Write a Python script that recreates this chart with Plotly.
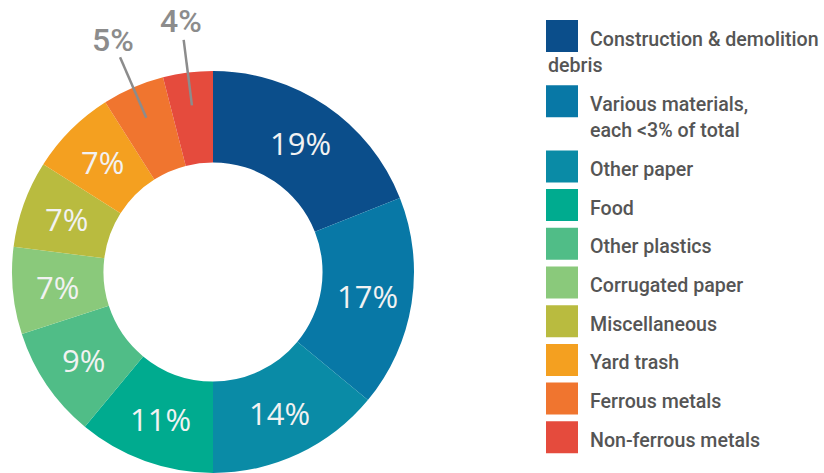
import math
import plotly.graph_objects as go

categories = [
    "Construction & demolition debris",
    "Various materials, each <3% of total",
    "Other paper",
    "Food",
    "Other plastics",
    "Corrugated paper",
    "Miscellaneous",
    "Yard trash",
    "Ferrous metals",
    "Non-ferrous metals",
]
shares = [19, 17, 14, 11, 9, 7, 7, 7, 5, 4]
colors = ["#0b4e8b", "#0878a6", "#0a8ba6", "#00ab8f", "#50bd87",
          "#8ac97b", "#b9bb3f", "#f4a020", "#f0752f", "#e54b3d"]
# legend text as shown (line pieces: (text, indent_flag))
legend_lines = [
    [("Construction & demolition", True), ("debris", False)],
    [("Various materials,", True), ("each <3% of total", True)],
    [("Other paper", True)],
    [("Food", True)],
    [("Other plastics", True)],
    [("Corrugated paper", True)],
    [("Miscellaneous", True)],
    [("Yard trash", True)],
    [("Ferrous metals", True)],
    [("Non-ferrous metals", True)],
]
outside_threshold = 6

W, H = 824, 473
CX, CY, R = 213, 272, 201
HOLE = 0.545

def px2paper(x, y):
    return x / W, 1 - y / H

total = sum(shares)

fig = go.Figure()
fig.add_trace(go.Pie(
    labels=categories,
    values=shares,
    textinfo="none",
    sort=False,
    direction="clockwise",
    rotation=0,
    hole=HOLE,
    marker=dict(colors=colors, line=dict(width=0)),
    domain=dict(x=[(CX - R) / W, (CX + R) / W], y=[1 - (CY + R) / H, 1 - (CY - R) / H]),
    showlegend=False,
    hoverinfo="label+percent",
))

shapes = []
annotations = []

# slice labels: inside the ring, or outside with leader lines for small slices
cum = 0
for v in shares:
    mid = (cum + v / 2) / total
    cum += v
    th = 2 * math.pi * mid
    def pt(r):
        return px2paper(CX + r * math.sin(th), CY - r * math.cos(th))
    if v >= outside_threshold:
        tx, ty = pt(156)
        annotations.append(dict(x=tx, y=ty, xref="paper", yref="paper", text=f"{v}%",
                                showarrow=False, xanchor="center", yanchor="middle",
                                font=dict(family="Open Sans", size=31, color="#f2f2f2")))
        continue
    x0, y0 = pt(168)
    x1, y1 = pt(234)
    shapes.append(dict(type="line", xref="paper", yref="paper", x0=x0, y0=y0, x1=x1, y1=y1,
                       line=dict(color="#8c8c8c", width=2.5)))
    tx, ty = pt(253)
    annotations.append(dict(x=tx, y=ty, xref="paper", yref="paper", text=f"{v}%",
                            showarrow=False, xanchor="center", yanchor="middle",
                            font=dict(family="Roboto", size=32, color="#8c8c8c", weight=500)))

# custom legend
SQ_X, SQ = 546, 32
TXT_X = 588
top = 20
STEP, LINE_H = 38.7, 26.5
for col, lines in zip(colors, legend_lines):
    x0, y0 = px2paper(SQ_X, top)
    x1, y1 = px2paper(SQ_X + SQ, top + SQ)
    shapes.append(dict(type="rect", xref="paper", yref="paper", x0=x0, y0=y1, x1=x1, y1=y0,
                       fillcolor=col, line=dict(width=0)))
    for i, (t, indent) in enumerate(lines):
        ty = top + 19 + i * LINE_H
        tx = TXT_X if indent else SQ_X
        ax, ay = px2paper(tx, ty)
        annotations.append(dict(x=ax, y=ay, xref="paper", yref="paper", text=t,
                                showarrow=False, xanchor="left", yanchor="middle",
                                font=dict(family="Roboto", size=19.6, color="#555555", weight=500)))
    top += STEP + (len(lines) - 1) * LINE_H

fig.update_layout(
    width=W, height=H,
    margin=dict(l=0, r=0, t=0, b=0),
    paper_bgcolor="white",
    plot_bgcolor="white",
    shapes=shapes,
    annotations=annotations,
)

fig.write_html("out.html", config={"displayModeBar": False},
               post_script="document.body.style.margin='0';")
